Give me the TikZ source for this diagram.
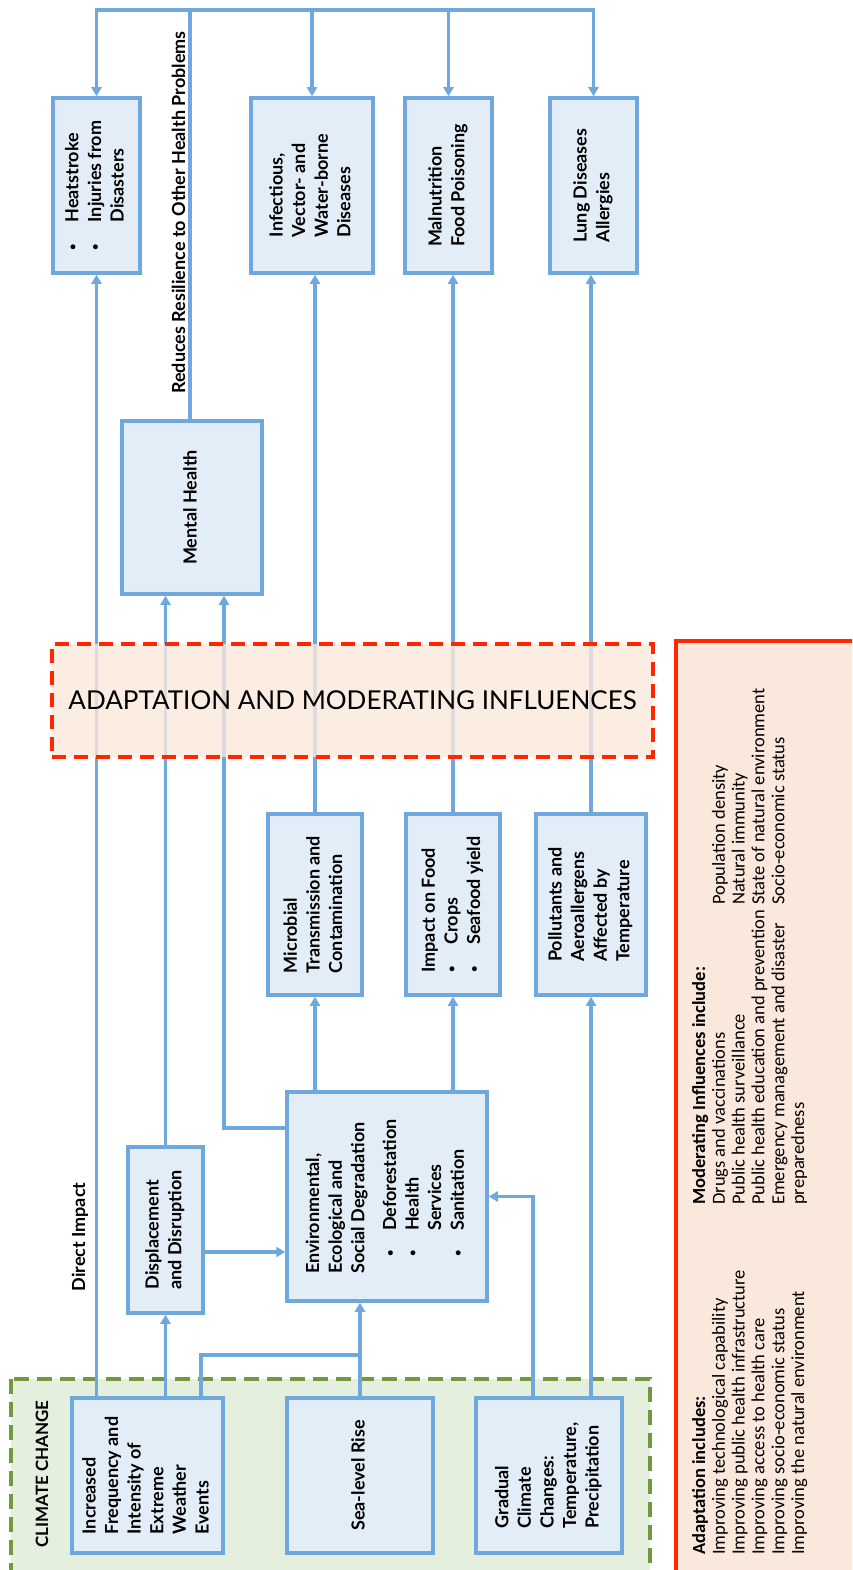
\documentclass[tikz,border=0pt]{standalone}
\usepackage{fontspec}
\setmainfont{Lato}
\newfontfamily\modfont{Carlito}
\usetikzlibrary{arrows.meta}
\definecolor{lblue}{RGB}{111,168,220}
\definecolor{bfill}{RGB}{227,237,248}
\definecolor{gfill}{RGB}{229,239,221}
\definecolor{gline}{RGB}{112,153,64}
\definecolor{pfill}{RGB}{251,232,220}
\definecolor{rline}{RGB}{255,38,0}
\newcommand{\rotblock}[1]{\rotatebox{90}{\begin{tabular}{@{}l@{}}#1\end{tabular}}}
\newcommand{\sbul}{\raisebox{0.12em}{\scalebox{0.62}{\textbullet}}}
\tikzset{
  hbox/.style={draw=lblue, fill=bfill, line width=3.5pt, inner sep=0pt, align=center,
    font={\bfseries\fontsize{18}{22.6}\selectfont}},
  conn/.style={draw=lblue, line width=3.5pt},
  arr/.style={conn, -{Triangle[length=9pt,width=10pt]}},
  lab/.style={rotate=90, anchor=base, inner sep=0pt, font={\bfseries\fontsize{18}{22.6}\selectfont}},
}
\begin{document}
\begin{tikzpicture}[x=1pt,y=-1pt]
\useasboundingbox (0,0) rectangle (852,1570);
\clip (0,0) rectangle (852,1570);
% backgrounds
\draw[gline, fill=gfill, line width=3.5pt, dash pattern=on 15pt off 8pt] (11,1379) rectangle (650,1600);
\draw[rline, fill=pfill, line width=3.5pt] (676,641) rectangle (880,1600);
% top row boxes
\node[hbox, minimum width=87pt, minimum height=175pt] (heat) at (96.5,185.5)
  {\rotatebox{90}{\begin{tabular}{@{}p{28pt}@{}l@{}}\sbul & Heatstroke\\ \sbul & Injuries from\\ & Disasters\end{tabular}}};
\node[hbox, minimum width=122pt, minimum height=175pt] (inf) at (312,185.5)
  {\rotblock{Infectious,\\ Vector- and\\ Water-borne\\ Diseases}};
\node[hbox, minimum width=87pt, minimum height=175pt] (mal) at (448.5,185.5)
  {\rotblock{Malnutrition\\ Food Poisoning}};
\node[hbox, minimum width=87pt, minimum height=175pt] (lung) at (593.5,185.5)
  {\rotblock{Lung Diseases\\ Allergies}};
% mental health
\node[hbox, minimum width=140pt, minimum height=173pt] (mh) at (192,507.5)
  {\rotblock{Mental Health}};
% middle boxes
\node[hbox, minimum width=94pt, minimum height=181pt] (mic) at (315,904.5)
  {\rotblock{Microbial\\ Transmission and\\ Contamination}};
\node[hbox, minimum width=94pt, minimum height=181pt] (imp) at (453,904.5)
  {\rotatebox{90}{\begin{tabular}{@{}p{28pt}@{}l@{}}\multicolumn{2}{@{}l@{}}{Impact on Food}\\ \sbul & Crops\\ \sbul & Seafood yield\end{tabular}}};
\node[hbox, minimum width=110pt, minimum height=181pt] (pol) at (591,904.5)
  {\rotblock{Pollutants and\\ Aeroallergens\\ Affected by\\ Temperature}};
% lower boxes
\node[hbox, minimum width=75pt, minimum height=166pt] (disp) at (165.5,1230)
  {\rotblock{Displacement\\ and Disruption}};
\node[hbox, minimum width=200pt, minimum height=209pt] (env) at (387,1196.5)
  {\rotatebox{90}{\begin{tabular}{@{}p{17pt}@{}p{26pt}@{}l@{}}
    \multicolumn{3}{@{}l@{}}{Environmental,}\\
    \multicolumn{3}{@{}l@{}}{Ecological and}\\
    \multicolumn{3}{@{}l@{}}{Social Degradation}\\[9pt]
    & \sbul & Deforestation\\
    & \sbul & Health\\
    & & Services\\
    & \sbul & Sanitation
  \end{tabular}}};
% climate change boxes
\node[hbox, minimum width=151pt, minimum height=155pt] (inc) at (147.5,1475.5)
  {\rotblock{Increased\\ Frequency and\\ Intensity of\\ Extreme\\ Weather\\ Events}};
\node[hbox, minimum width=146pt, minimum height=155pt] (sea) at (360,1475.5)
  {\rotblock{Sea-level Rise}};
\node[hbox, minimum width=146pt, minimum height=155pt] (grad) at (549,1475.5)
  {\rotblock{Gradual\\ Climate\\ Changes:\\ Temperature,\\ Precipitation}};
% helper coordinates
\coordinate (bus) at (190,10);
\coordinate (ydisp) at (0,1252);
\coordinate (yenvl) at (0,1128);
\coordinate (xenvmh) at (224,0);
\coordinate (xinc) at (201,0);
\coordinate (yjoin) at (0,1355);
\coordinate (xgrad) at (533,0);
% connectors
\draw[conn] (bus |- mh.north) -- (bus);
\draw[arr] (bus) -| (heat.north);
\draw[arr] (bus) -| (inf.north);
\draw[arr] (bus) -| (mal.north);
\draw[arr] (bus) -| (lung.north);
\draw[arr] (heat.south |- inc.north) -- (heat.south);
\draw[arr] (disp.south |- inc.north) -- (disp.south);
\draw[arr] (disp.north) -- (disp.north |- mh.south);
\draw[arr] (disp.east |- ydisp) -- (env.west |- ydisp);
\draw[arr] (env.west |- yenvl) -| (xenvmh |- mh.south);
\draw[arr] (sea.north) -- (sea.north |- env.south);
\draw[conn] (xinc |- inc.north) |- (sea.north |- yjoin);
\draw[arr] (xgrad |- grad.north) |- (env.east);
\draw[arr] (mic.south |- env.north) -- (mic.south);
\draw[arr] (imp.south |- env.north) -- (imp.south);
\draw[arr] (pol.south |- grad.north) -- (pol.south);
\draw[arr] (mic.north) -- (mic.north |- inf.south);
\draw[arr] (imp.north) -- (imp.north |- mal.south);
\draw[arr] (pol.north) -- (pol.north |- lung.south);
% labels
\node[lab] (redlab) at (185,212.5) {Reduces Resilience to Other Health Problems};
\node[lab] (dilab) at (85,1237) {Direct Impact};
\node[lab, font={\bfseries\fontsize{17}{20}\selectfont}] (cclab) at (48,1474) {CLIMATE CHANGE};
% adaptation box (over the connectors)
\node[draw=rline, fill=pfill, fill opacity=0.8, text opacity=1, line width=3.5pt,
  dash pattern=on 14pt off 8pt, minimum width=601pt, minimum height=113pt, inner sep=0pt,
  font={\fontsize{26}{30}\selectfont}] (adapt) at (352.5,700.5)
  {ADAPTATION AND MODERATING INFLUENCES};
% moderating influences text
\node[rotate=90, anchor=north west, inner sep=0pt, font={\modfont\fontsize{18.5}{19.8}\selectfont}] (modtext) at (691,1555)
  {\begin{tabular}{@{}p{350pt}@{}p{300pt}@{}l@{}}
    \textbf{Adaptation includes:} & \textbf{Moderating Influences include:} & \\
    Improving technological capability & Drugs and vaccinations & Population density\\
    Improving public health infrastructure & Public health surveillance & Natural immunity\\
    Improving access to health care & Public health education and prevention & State of natural environment\\
    Improving socio-economic status & Emergency management and disaster & Socio-economic status\\
    Improving the natural environment & preparedness &
  \end{tabular}};
\end{tikzpicture}
\end{document}
